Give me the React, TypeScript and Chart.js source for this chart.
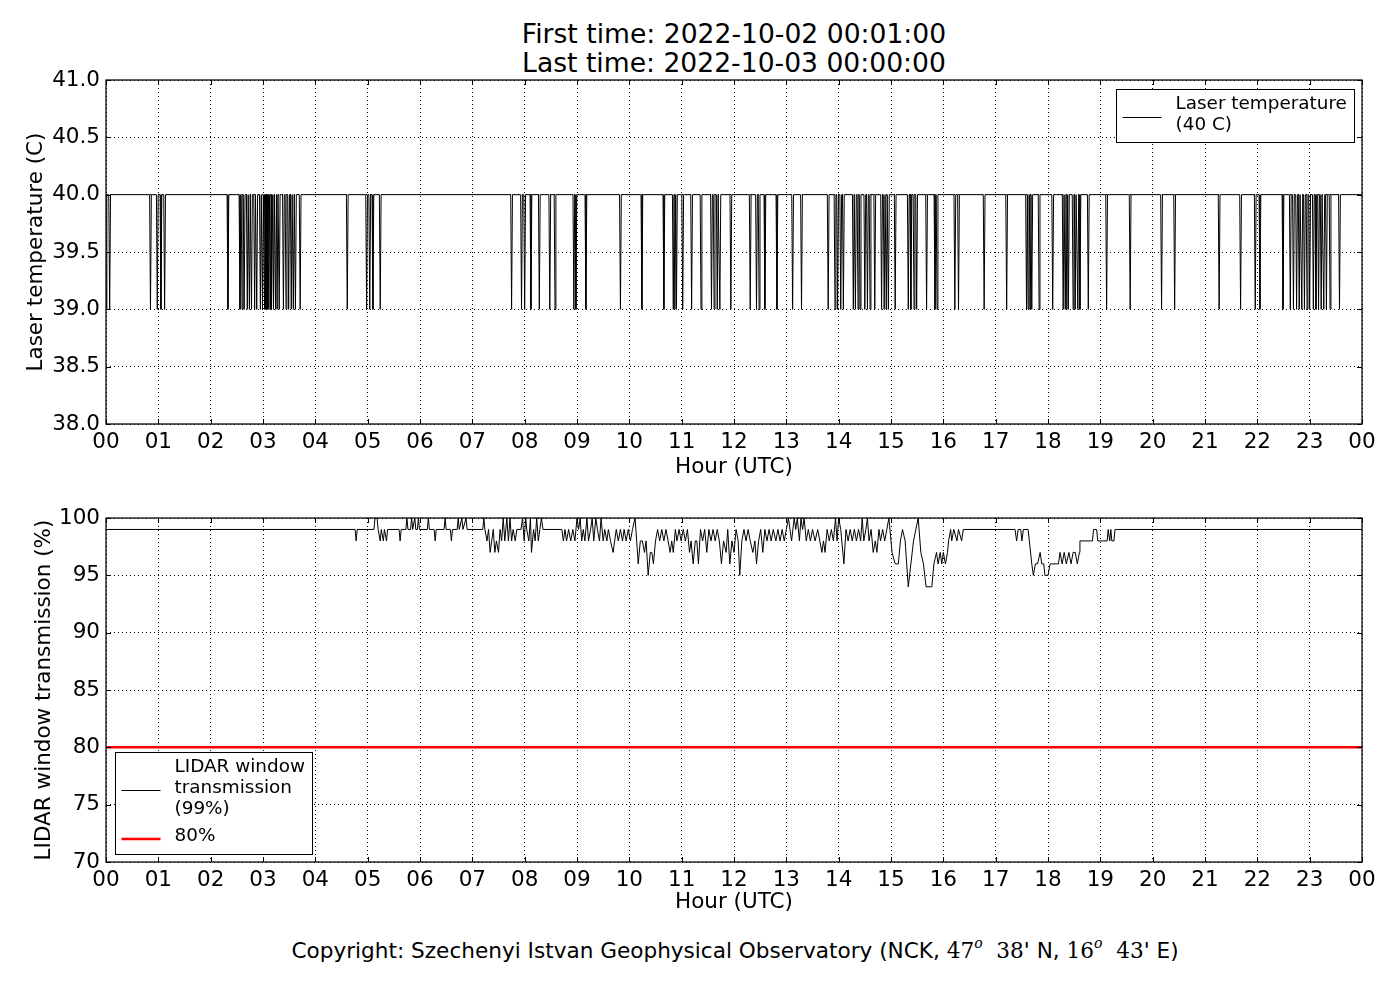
import { useEffect, useRef } from "react"
import { Chart, registerables } from "chart.js"

Chart.register(...registerables)

const FONT = "'DejaVu Sans', sans-serif"

// x axis: hours of the day (UTC)
const hourLabels = [
  "00", "01", "02", "03", "04", "05", "06", "07", "08", "09", "10", "11",
  "12", "13", "14", "15", "16", "17", "18", "19", "20", "21", "22", "23", "00",
]

// laser temperature: sits at 40 C, one-minute drops to 39 C at these hours
const laserNominal = 40
const laserLow = 39
const laserDropHours = [
  0.0, 0.07, 0.85, 0.98, 1.05, 1.12,
  2.33, 2.56, 2.6, 2.64, 2.7, 2.74, 2.78, 2.84, 2.88,
  2.95, 2.99, 3.03, 3.045, 3.06, 3.075, 3.09, 3.11, 3.14, 3.17, 3.2, 3.24, 3.27, 3.31,
  3.39, 3.44, 3.49, 3.54, 3.58, 3.62, 3.71,
  4.61, 4.98, 5.04, 5.1, 5.24,
  7.75, 7.94, 8.0, 8.12, 8.28, 8.48, 8.58, 8.94, 8.98, 9.17, 9.83,
  10.24, 10.66, 10.84, 10.87, 10.9, 11.02, 11.19, 11.37, 11.57, 11.62, 11.68, 11.73, 11.94,
  12.31, 12.43, 12.48, 12.59, 12.82, 13.12, 13.29, 13.8, 13.93, 13.98, 14.04, 14.09,
  14.28, 14.32, 14.37, 14.41, 14.5, 14.55, 14.6, 14.69, 14.82, 14.87, 14.91, 14.95,
  15.08, 15.33, 15.38, 15.44, 15.49, 15.68, 15.84, 15.88, 16.22, 16.29, 16.78,
  17.21, 17.59, 17.62, 17.66, 17.69, 17.83, 18.09, 18.29, 18.33, 18.36, 18.39,
  18.48, 18.52, 18.57, 18.61, 18.77, 19.12, 19.57, 20.17, 20.42,
  21.27, 21.68, 21.96, 22.05, 22.49, 22.63, 22.69, 22.75, 22.8, 22.85, 22.9, 22.95, 23.0,
  23.07, 23.12, 23.17, 23.22, 23.27, 23.32, 23.39, 23.57,
]

// LIDAR window transmission (%): [hour, value]
const windowTrace: [number, number][] = [
  [0, 99], [4.76, 99], [4.78, 98], [4.8, 99],
  [5.12, 99], [5.14, 100], [5.18, 100], [5.2, 99], [5.24, 98], [5.26, 99], [5.3, 98], [5.32, 99], [5.36, 98], [5.38, 99],
  [5.6, 99], [5.62, 98], [5.64, 99],
  [5.73, 99], [5.75, 100], [5.77, 99], [5.82, 99], [5.84, 100], [5.86, 99], [5.9, 100], [5.92, 99], [5.95, 99], [5.97, 100], [5.99, 99],
  [6.14, 99], [6.16, 100], [6.18, 99], [6.27, 99], [6.29, 98], [6.31, 99],
  [6.46, 99], [6.48, 100], [6.5, 99], [6.58, 99], [6.6, 98], [6.62, 99],
  [6.71, 99], [6.73, 100], [6.75, 99], [6.8, 100], [6.82, 99], [6.88, 100], [6.9, 99],
  [7.2, 99], [7.22, 100], [7.24, 99], [7.28, 98], [7.31, 99], [7.34, 97], [7.37, 98], [7.4, 99], [7.43, 97], [7.46, 98],
  [7.5, 97], [7.53, 99], [7.56, 98], [7.59, 100], [7.62, 98], [7.66, 100], [7.69, 98], [7.72, 100], [7.75, 98], [7.78, 99],
  [7.82, 98], [7.85, 99], [7.93, 99], [7.96, 100], [7.99, 98], [8.02, 100], [8.04, 99], [8.08, 98], [8.11, 100], [8.13, 97],
  [8.17, 99], [8.2, 98], [8.23, 100], [8.26, 98], [8.29, 99], [8.32, 100], [8.35, 99],
  [8.71, 99], [8.74, 98], [8.77, 99], [8.8, 98], [8.84, 99], [8.88, 98], [8.92, 99], [8.96, 98], [9.0, 100], [9.03, 99],
  [9.06, 100], [9.09, 98], [9.12, 99], [9.15, 98], [9.19, 100], [9.22, 98], [9.26, 99], [9.29, 100], [9.32, 98], [9.36, 100],
  [9.39, 99], [9.43, 98], [9.46, 100], [9.5, 98], [9.53, 99], [9.57, 98], [9.6, 99], [9.64, 98], [9.69, 97], [9.72, 98],
  [9.75, 99], [9.79, 98], [9.83, 99], [9.87, 98], [9.9, 99], [9.94, 98], [9.98, 99], [10.02, 98], [10.06, 99], [10.11, 100],
  [10.14, 98], [10.17, 96], [10.21, 98], [10.25, 98], [10.29, 97], [10.32, 98], [10.36, 95], [10.4, 97], [10.43, 97], [10.46, 96],
  [10.5, 98], [10.54, 99], [10.58, 98], [10.62, 99], [10.66, 98], [10.7, 99], [10.74, 98], [10.78, 97], [10.81, 98], [10.84, 97],
  [10.88, 99], [10.91, 98], [10.95, 99], [10.99, 98], [11.03, 99], [11.07, 98], [11.11, 99], [11.15, 97], [11.18, 98], [11.22, 96],
  [11.26, 98], [11.29, 98], [11.32, 96], [11.36, 99], [11.4, 98], [11.44, 99], [11.48, 97], [11.52, 99], [11.56, 98], [11.6, 99],
  [11.64, 98], [11.68, 99], [11.72, 98], [11.76, 96], [11.8, 98], [11.85, 97], [11.88, 99], [11.92, 96], [11.96, 98], [12.0, 97],
  [12.04, 99], [12.08, 98], [12.11, 95], [12.15, 98], [12.19, 99], [12.23, 98], [12.27, 99], [12.31, 98], [12.36, 97], [12.4, 98],
  [12.43, 96], [12.47, 98], [12.51, 99], [12.55, 97], [12.59, 99], [12.63, 98], [12.67, 99], [12.71, 98], [12.75, 99], [12.8, 98],
  [12.84, 99], [12.88, 98], [12.92, 99], [12.96, 98], [13.0, 99], [13.04, 100], [13.07, 99], [13.1, 98], [13.15, 100], [13.18, 99],
  [13.21, 100], [13.25, 98], [13.28, 100], [13.31, 99], [13.34, 100], [13.38, 98], [13.42, 99], [13.46, 98], [13.5, 99], [13.55, 98],
  [13.6, 99], [13.64, 98], [13.68, 97], [13.71, 98], [13.74, 97], [13.78, 99], [13.82, 98], [13.86, 99], [13.9, 98], [13.94, 100],
  [13.97, 98], [14.0, 100], [14.04, 99], [14.1, 96], [14.14, 99], [14.18, 98], [14.22, 99], [14.26, 98], [14.3, 99], [14.34, 98],
  [14.38, 99], [14.42, 98], [14.45, 100], [14.48, 98], [14.52, 99], [14.55, 100], [14.58, 98], [14.62, 99], [14.66, 97], [14.7, 98],
  [14.73, 97], [14.77, 99], [14.8, 98], [14.84, 99], [14.88, 98], [14.92, 99], [14.96, 100], [15.02, 97], [15.08, 96], [15.14, 96],
  [15.18, 98], [15.22, 99], [15.27, 98], [15.33, 94], [15.43, 98], [15.52, 100], [15.57, 97], [15.62, 96], [15.67, 94], [15.78, 94],
  [15.82, 96], [15.87, 97], [15.9, 96], [15.94, 97], [15.97, 96], [16.0, 97], [16.04, 96], [16.08, 97], [16.1, 98], [16.14, 99],
  [16.16, 98], [16.2, 99], [16.26, 98], [16.29, 99], [16.35, 98], [16.38, 99],
  [17.37, 99], [17.4, 98], [17.43, 99], [17.48, 99], [17.5, 98], [17.53, 99], [17.62, 99], [17.69, 96], [17.72, 95], [17.76, 96],
  [17.8, 96], [17.85, 97], [17.88, 96], [17.92, 96], [17.94, 95], [18.0, 95], [18.04, 96], [18.2, 96], [18.23, 97], [18.27, 96],
  [18.31, 97], [18.35, 96], [18.4, 97], [18.44, 96], [18.48, 97], [18.52, 97], [18.56, 96], [18.6, 97], [18.61, 98], [18.85, 98],
  [18.87, 99], [18.93, 99], [18.95, 98], [19.13, 98], [19.15, 99], [19.18, 98], [19.2, 99], [19.22, 98], [19.26, 98], [19.28, 99],
  [24, 99],
]

const windowThreshold = 80

// matplotlib-like box round the axes with inward ticks on all four sides
const frame = {
  id: "frame",
  afterDatasetsDraw(chart: any) {
    const { ctx, chartArea: a, scales } = chart
    ctx.save()
    ctx.strokeStyle = "#000"
    ctx.lineWidth = 1
    ctx.beginPath()
    for (const t of scales.x.ticks) {
      const px = Math.round(scales.x.getPixelForValue(t.value)) + 0.5
      ctx.moveTo(px, a.bottom)
      ctx.lineTo(px, a.bottom - 5)
      ctx.moveTo(px, a.top)
      ctx.lineTo(px, a.top + 5)
    }
    for (const t of scales.y.ticks) {
      const py = Math.round(scales.y.getPixelForValue(t.value)) + 0.5
      ctx.moveTo(a.left, py)
      ctx.lineTo(a.left + 5, py)
      ctx.moveTo(a.right, py)
      ctx.lineTo(a.right - 5, py)
    }
    ctx.stroke()
    ctx.lineWidth = 1.25
    ctx.strokeRect(a.left, a.top, a.right - a.left, a.bottom - a.top)
    ctx.restore()
  },
}

// boxed legend with multi-line labels, placed in a corner of the plot area
const boxLegend = {
  id: "boxLegend",
  afterDraw(chart: any, _args: any, opts: any) {
    const { ctx, chartArea: a } = chart
    const lineH = 21
    const gap = 6.7
    ctx.save()
    ctx.font = `18.4px ${FONT}`
    const items = opts.items as { lines: string[]; color: string; width: number }[]
    const textW = Math.max(...items.flatMap((it) => it.lines.map((l) => ctx.measureText(l).width)))
    const nLines = items.reduce((n, it) => n + it.lines.length, 0)
    const w = Math.round(59 + textW + 7.5)
    const h = Math.round(14.5 + (nLines - 1) * lineH + (items.length - 1) * gap + 17.3)
    const left = Math.round(opts.corner === "topright" ? a.right - 8 - w : a.left + 9) + 0.5
    const top = Math.round(opts.corner === "topright" ? a.top + 9 : a.bottom - 8 - h) + 0.5
    ctx.fillStyle = "#fff"
    ctx.fillRect(left, top, w, h)
    ctx.strokeStyle = "#000"
    ctx.lineWidth = 1
    ctx.strokeRect(left, top, w, h)
    let cy = top + 14.5
    for (const it of items) {
      const mid = Math.round(cy + ((it.lines.length - 1) * lineH) / 2 + 2) + (it.width < 2 ? 0.5 : 0)
      ctx.beginPath()
      ctx.strokeStyle = it.color
      ctx.lineWidth = it.width
      ctx.moveTo(left + 6, mid)
      ctx.lineTo(left + 45, mid)
      ctx.stroke()
      ctx.fillStyle = "#000"
      ctx.textBaseline = "middle"
      ctx.textAlign = "left"
      it.lines.forEach((l, i) => ctx.fillText(l, left + 59, cy + i * lineH))
      cy += it.lines.length * lineH + gap
    }
    ctx.restore()
  },
}

function hourAxis(height: number, titleBottom: number) {
  return {
    type: "linear" as const,
    min: 0,
    max: 24,
    ticks: {
      stepSize: 1,
      autoSkip: false,
      maxRotation: 0,
      padding: 6,
      color: "#000",
      font: { size: 21.5 },
      callback: (v: any) => hourLabels[Number(v)] ?? "",
    },
    grid: { color: "#000", lineWidth: 1, drawTicks: false },
    border: { display: false, dash: [1, 3] },
    title: {
      display: true,
      text: "Hour (UTC)",
      color: "#000",
      font: { size: 21.5, lineHeight: 1.2 },
      padding: { top: 0, bottom: titleBottom },
    },
    afterFit: (scale: any) => {
      scale.height = height
    },
  }
}

function valueAxis(min: number, max: number, step: number, digits: number, title: string, titleTop: number) {
  return {
    type: "linear" as const,
    min,
    max,
    ticks: {
      stepSize: step,
      padding: 6,
      color: "#000",
      font: { size: 21.5 },
      callback: (v: any) => Number(v).toFixed(digits),
    },
    grid: { color: "#000", lineWidth: 1, drawTicks: false },
    border: { display: false, dash: [1, 3] },
    title: {
      display: true,
      text: title,
      color: "#000",
      font: { size: 21.5, lineHeight: 1.2 },
      padding: { top: titleTop, bottom: 0 },
    },
    afterFit: (scale: any) => {
      scale.width = 106
    },
  }
}

export default function App() {
  const topRef = useRef<HTMLCanvasElement>(null)
  const bottomRef = useRef<HTMLCanvasElement>(null)

  useEffect(() => {
    document.body.style.margin = "0"
    if (!topRef.current || !bottomRef.current) return

    Chart.defaults.font.family = FONT
    Chart.defaults.color = "#000"

    const laserPoints: { x: number; y: number }[] = []
    for (const h of laserDropHours) {
      laserPoints.push({ x: h - 1 / 60, y: laserNominal }, { x: h, y: laserLow }, { x: h + 1 / 60, y: laserNominal })
    }
    laserPoints.push({ x: 24, y: laserNominal })

    const windowPoints = windowTrace.map(([x, y]) => ({ x, y }))

    const top = new Chart(topRef.current, {
      type: "line",
      data: {
        datasets: [
          {
            label: "Laser temperature (40 C)",
            data: laserPoints,
            borderColor: "#000",
            borderWidth: 1,
            pointRadius: 0,
            tension: 0,
          },
        ],
      },
      options: {
        responsive: false,
        animation: false,
        layout: { padding: { top: 80, right: 38, left: 0, bottom: 0 } },
        scales: {
          x: hourAxis(66, 10),
          y: valueAxis(38, 41, 0.5, 1, "Laser temperature (C)", 24),
        },
        plugins: {
          legend: { display: false },
          tooltip: { enabled: false },
          boxLegend: {
            corner: "topright",
            items: [{ lines: ["Laser temperature", "(40 C)"], color: "#000", width: 1 }],
          },
        } as any,
      },
      plugins: [frame, boxLegend],
    })

    const bottom = new Chart(bottomRef.current, {
      type: "line",
      data: {
        datasets: [
          {
            label: "LIDAR window transmission (99%)",
            data: windowPoints,
            borderColor: "#000",
            borderWidth: 1,
            pointRadius: 0,
            tension: 0,
          },
          {
            label: "80%",
            data: [
              { x: 0, y: windowThreshold },
              { x: 24, y: windowThreshold },
            ],
            borderColor: "#ff0000",
            borderWidth: 2.5,
            pointRadius: 0,
          },
        ],
      },
      options: {
        responsive: false,
        animation: false,
        layout: { padding: { top: 28, right: 38, left: 0, bottom: 0 } },
        scales: {
          x: hourAxis(58, 5),
          y: valueAxis(70, 100, 5, 0, "LIDAR window transmission (%)", 32),
        },
        plugins: {
          legend: { display: false },
          tooltip: { enabled: false },
          boxLegend: {
            corner: "bottomleft",
            items: [
              { lines: ["LIDAR window", "transmission", "(99%)"], color: "#000", width: 1 },
              { lines: ["80%"], color: "#ff0000", width: 2.5 },
            ],
          },
        } as any,
      },
      plugins: [frame, boxLegend],
    })

    return () => {
      top.destroy()
      bottom.destroy()
    }
  }, [])

  const serif = { fontFamily: "'DejaVu Serif', serif" }
  const sup = { fontSize: "14px", fontStyle: "italic", verticalAlign: "10px", ...serif }

  return (
    <div style={{ position: "relative", width: 1400, height: 1000, background: "#fff", fontFamily: FONT, color: "#000" }}>
      <div style={{ position: "absolute", left: 234, top: 19, width: 1000, textAlign: "center", fontSize: 26.6, lineHeight: "29px" }}>
        First time: 2022-10-02 00:01:00
        <br />
        Last time: 2022-10-03 00:00:00
      </div>
      <canvas ref={topRef} width={1400} height={490} style={{ position: "absolute", left: 0, top: 0 }} />
      <canvas ref={bottomRef} width={1400} height={430} style={{ position: "absolute", left: 0, top: 490 }} />
      <div style={{ position: "absolute", left: 235, top: 930, width: 1000, textAlign: "center", fontSize: 21.6, lineHeight: "26px", whiteSpace: "nowrap" }}>
        Copyright: Szechenyi Istvan Geophysical Observatory (NCK, <span style={serif}>47</span>
        <span style={sup}>o</span>
        <span style={serif}>&nbsp;&nbsp;38</span>' N, <span style={serif}>16</span>
        <span style={sup}>o</span>
        <span style={serif}>&nbsp;&nbsp;43</span>' E)
      </div>
    </div>
  )
}
